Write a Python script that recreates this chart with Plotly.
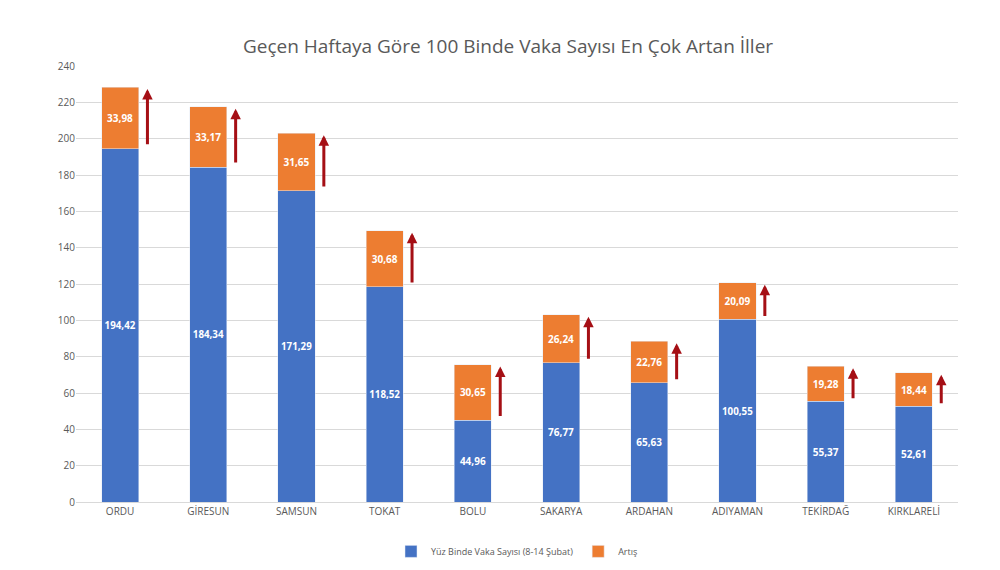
import plotly.graph_objects as go

cities = ["ORDU", "GİRESUN", "SAMSUN", "TOKAT", "BOLU", "SAKARYA", "ARDAHAN", "ADIYAMAN", "TEKİRDAĞ", "KIRKLARELİ"]
base = [194.42, 184.34, 171.29, 118.52, 44.96, 76.77, 65.63, 100.55, 55.37, 52.61]
incr = [33.98, 33.17, 31.65, 30.68, 30.65, 26.24, 22.76, 20.09, 19.28, 18.44]

def fmt(v):
    return "<b>" + f"{v:.2f}".replace(".", ",") + "</b>"

fig = go.Figure()
fig.add_bar(x=cities, y=base, name="Yüz Binde Vaka Sayısı (8-14 Şubat)", marker_color="#4472C4",
            text=[fmt(v) for v in base], textposition="inside", insidetextanchor="middle", textangle=0,
            textfont=dict(color="white", size=10, family="Open Sans"), width=0.42)
fig.add_bar(x=cities, y=incr, name="Artış", marker_color="#ED7D31",
            text=[fmt(v) for v in incr], textposition="inside", insidetextanchor="middle", textangle=0,
            textfont=dict(color="white", size=10, family="Open Sans"), width=0.42)

for i, (b, d) in enumerate(zip(base, incr)):
    top = b + d
    fig.add_annotation(x=i + 0.31, y=top - 1, ax=i + 0.31, ay=top - d * 0.95,
                       xref="x", yref="y", axref="x", ayref="y",
                       showarrow=True, arrowhead=2, arrowsize=0.7, arrowwidth=3,
                       arrowcolor="#A50F15", text="")

fig.update_layout(
    barmode="stack", width=1000, height=570, plot_bgcolor="white", paper_bgcolor="white",
    title=dict(text="Geçen Haftaya Göre 100 Binde Vaka Sayısı En Çok Artan İller", x=0.5, y=0.945,
               font=dict(size=19, color="#595959", family="Open Sans")),
    margin=dict(l=68, r=50, t=58, b=58),
    legend=dict(orientation="h", x=0.5, xanchor="center", y=-0.08, traceorder="normal",
                font=dict(size=9, color="#595959")),
    font=dict(family="Open Sans", color="#595959"),
)
fig.update_yaxes(range=[0, 240], dtick=20, gridcolor="#D9D9D9", tickfont=dict(size=10), zeroline=False)
fig.update_xaxes(tickfont=dict(size=10), showline=True, linecolor="#D9D9D9")
fig.write_html("out.html")
